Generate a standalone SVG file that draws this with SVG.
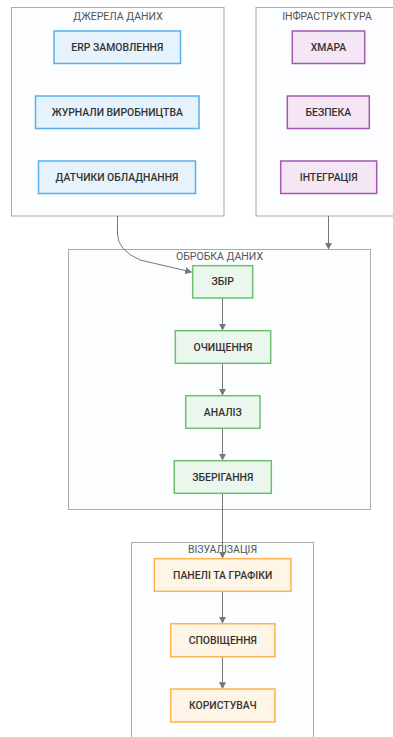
<svg xmlns="http://www.w3.org/2000/svg" width="393" height="737" viewBox="0 0 393 737">
<defs>
<marker id="arr" viewBox="0 0 10 10" refX="9" refY="5" markerWidth="7" markerHeight="7" orient="auto-start-reverse" markerUnits="userSpaceOnUse"><path d="M0,0 L10,5 L0,10 z" fill="#777"/></marker>
<style>
.cl{fill:#fbfdfe;stroke:#aaa;stroke-width:1}
.ct{font-family:Roboto,"Liberation Sans",Arial,sans-serif;font-size:10.5px;fill:#555;text-anchor:middle}
.nt{font-family:Roboto,"Liberation Sans",Arial,sans-serif;font-size:10.4px;font-weight:500;fill:#333;text-anchor:middle;dominant-baseline:central}
.b{fill:#e6f3fc;stroke:#5aaeee;stroke-width:1.5}
.p{fill:#f4e6f5;stroke:#a457b3;stroke-width:1.5}
.g{fill:#ebf6ec;stroke:#6cc070;stroke-width:1.5}
.o{fill:#fff5e6;stroke:#ffb24e;stroke-width:1.5}
.e{fill:none;stroke:#777;stroke-width:1}
</style>
</defs>
<rect width="393" height="737" fill="#ffffff"/>
<g id="cluster-sources"><rect class="cl" x="11.5" y="7.5" width="212.5" height="208.5"/><text class="ct" x="118" y="19.5">ДЖЕРЕЛА ДАНИХ</text></g>
<g id="cluster-infra"><rect class="cl" x="256" y="7.5" width="140" height="208.5"/><text class="ct" x="327" y="19.5">ІНФРАСТРУКТУРА</text></g>
<g id="cluster-processing"><rect class="cl" x="68.5" y="249.5" width="302" height="260"/><text class="ct" x="219.5" y="260">ОБРОБКА ДАНИХ</text></g>
<g id="cluster-vis"><rect class="cl" x="131.5" y="542.5" width="182" height="200"/><text class="ct" x="222.5" y="553">ВІЗУАЛІЗАЦІЯ</text></g>
<g id="connectors">
<path class="e" d="M117.5,216 L117.5,234 Q117.5,250 140,260 L191.5,272" marker-end="url(#arr)"/>
<path class="e" d="M328.5,216 L328.5,249" marker-end="url(#arr)"/>
<path class="e" d="M222.5,298 L222.5,330" marker-end="url(#arr)"/>
<path class="e" d="M222.5,363.5 L222.5,395" marker-end="url(#arr)"/>
<path class="e" d="M222.5,428.5 L222.5,460" marker-end="url(#arr)"/>
<path class="e" d="M222.5,493.5 L222.5,558" marker-end="url(#arr)"/>
<path class="e" d="M222.5,591.5 L222.5,623" marker-end="url(#arr)"/>
<path class="e" d="M222.5,656.5 L222.5,688.5" marker-end="url(#arr)"/>
</g>
<g id="erp"><rect class="b" x="54" y="31" width="126.5" height="32.5"/><text class="nt" x="117.3" y="47.3">ERP ЗАМОВЛЕННЯ</text></g>
<g id="logs"><rect class="b" x="35.5" y="96" width="163.5" height="32.5"/><text class="nt" x="117.3" y="112.3">ЖУРНАЛИ ВИРОБНИЦТВА</text></g>
<g id="sensors"><rect class="b" x="38.5" y="161" width="157" height="32.5"/><text class="nt" x="117" y="177.3">ДАТЧИКИ ОБЛАДНАННЯ</text></g>
<g id="cloud"><rect class="p" x="292.3" y="31" width="72.4" height="32.5"/><text class="nt" x="328.5" y="47.3">ХМАРА</text></g>
<g id="security"><rect class="p" x="287.3" y="96" width="82" height="32.5"/><text class="nt" x="328.3" y="112.3">БЕЗПЕКА</text></g>
<g id="integration"><rect class="p" x="280.7" y="161" width="96" height="32.5"/><text class="nt" x="328.7" y="177.3">ІНТЕГРАЦІЯ</text></g>
<g id="collect"><rect class="g" x="192.7" y="265.7" width="60" height="32.3"/><text class="nt" x="222.7" y="281.9">ЗБІР</text></g>
<g id="clean"><rect class="g" x="175.3" y="330.7" width="95.4" height="32.6"/><text class="nt" x="223" y="347">ОЧИЩЕННЯ</text></g>
<g id="analysis"><rect class="g" x="185.7" y="395.7" width="74.3" height="32.6"/><text class="nt" x="222.8" y="412">АНАЛІЗ</text></g>
<g id="storage"><rect class="g" x="174.3" y="460.7" width="97" height="32.6"/><text class="nt" x="222.8" y="477">ЗБЕРІГАННЯ</text></g>
<g id="dashboards"><rect class="o" x="154.3" y="558.7" width="136.7" height="32.6"/><text class="nt" x="222.7" y="575">ПАНЕЛІ ТА ГРАФІКИ</text></g>
<g id="alerts"><rect class="o" x="170.7" y="623.7" width="104.3" height="33"/><text class="nt" x="222.8" y="640.2">СПОВІЩЕННЯ</text></g>
<g id="user"><rect class="o" x="170.7" y="689" width="104.3" height="33"/><text class="nt" x="222.8" y="705.5">КОРИСТУВАЧ</text></g>
</svg>
